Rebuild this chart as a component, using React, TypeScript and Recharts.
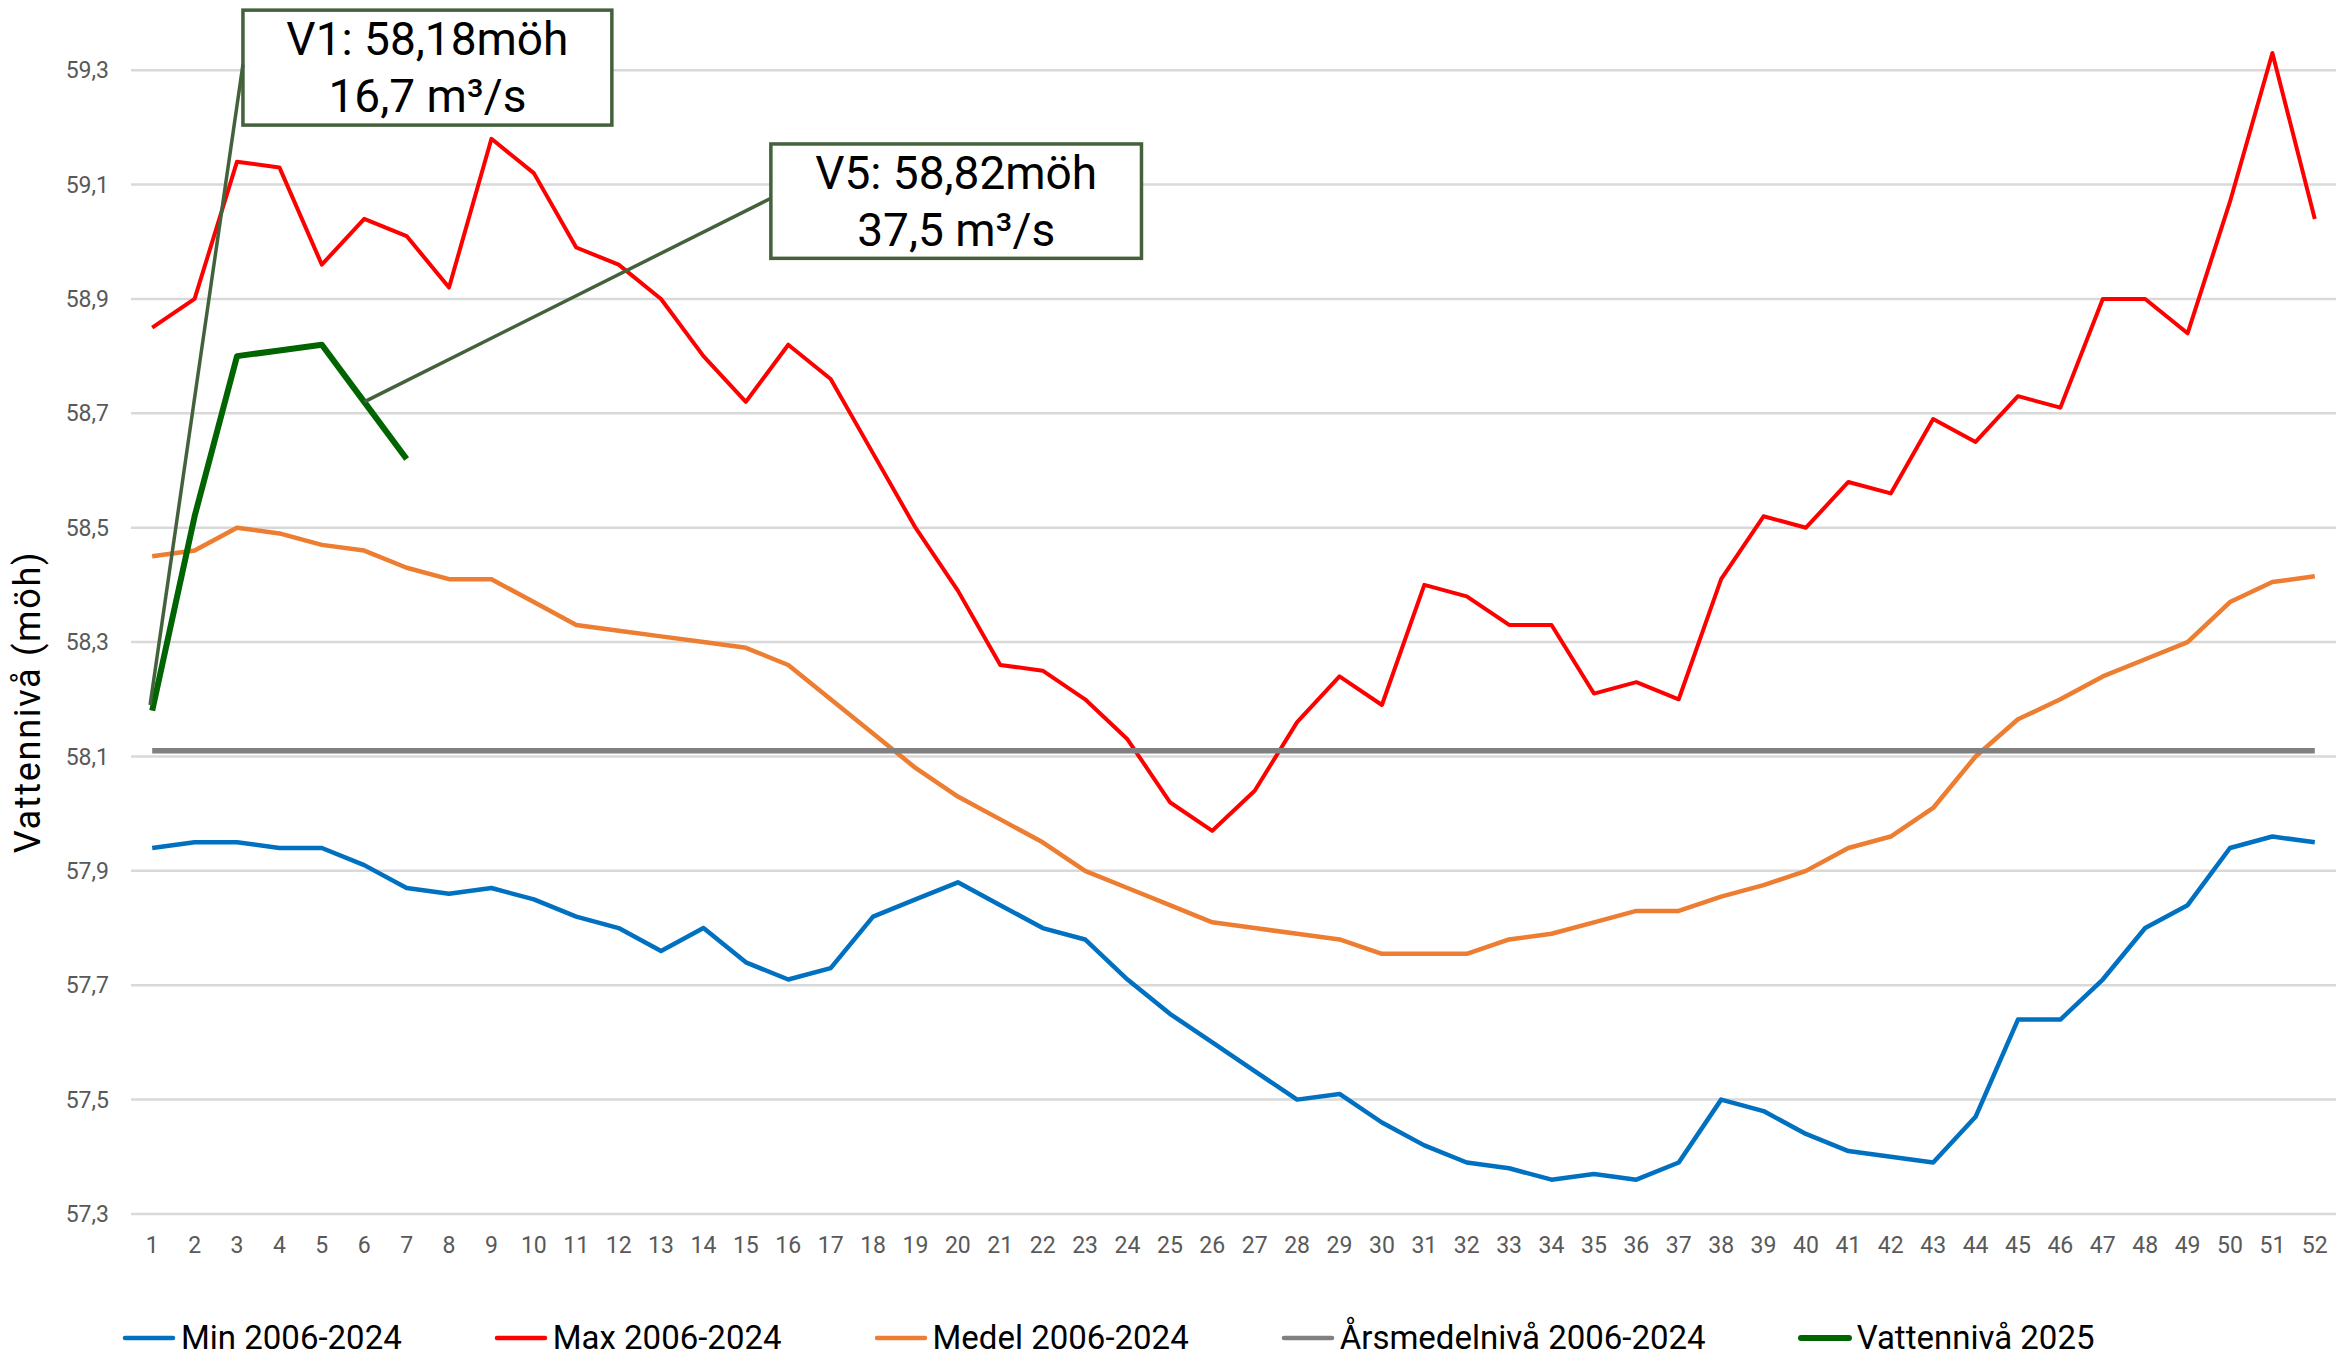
import React from 'react';
import { LineChart, Line, XAxis, YAxis, CartesianGrid, Legend, ReferenceArea, ReferenceLine } from 'recharts';

const weeks = [
  1, 2, 3, 4, 5, 6, 7, 8, 9, 10, 11, 12, 13, 14, 15, 16, 17, 18, 19, 20, 21, 22, 23, 24, 25, 26,
  27, 28, 29, 30, 31, 32, 33, 34, 35, 36, 37, 38, 39, 40, 41, 42, 43, 44, 45, 46, 47, 48, 49, 50, 51, 52,
];

const minLevels = [
  57.94, 57.95, 57.95, 57.94, 57.94, 57.91, 57.87, 57.86, 57.87, 57.85, 57.82, 57.8, 57.76,
  57.8, 57.74, 57.71, 57.73, 57.82, 57.85, 57.88, 57.84, 57.8, 57.78, 57.71, 57.65, 57.6,
  57.55, 57.5, 57.51, 57.46, 57.42, 57.39, 57.38, 57.36, 57.37, 57.36, 57.39, 57.5, 57.48,
  57.44, 57.41, 57.4, 57.39, 57.47, 57.64, 57.64, 57.71, 57.8, 57.84, 57.94, 57.96, 57.95,
];

const maxLevels = [
  58.85, 58.9, 59.14, 59.13, 58.96, 59.04, 59.01, 58.92, 59.18, 59.12, 58.99, 58.96, 58.9,
  58.8, 58.72, 58.82, 58.76, 58.63, 58.5, 58.39, 58.26, 58.25, 58.2, 58.13, 58.02, 57.97,
  58.04, 58.16, 58.24, 58.19, 58.4, 58.38, 58.33, 58.33, 58.21, 58.23, 58.2, 58.41, 58.52,
  58.5, 58.58, 58.56, 58.69, 58.65, 58.73, 58.71, 58.9, 58.9, 58.84, 59.07, 59.33, 59.04,
];

const medelLevels = [
  58.45, 58.46, 58.5, 58.49, 58.47, 58.46, 58.43, 58.41, 58.41, 58.37, 58.33, 58.32, 58.31,
  58.3, 58.29, 58.26, 58.2, 58.14, 58.08, 58.03, 57.99, 57.95, 57.9, 57.87, 57.84, 57.81,
  57.8, 57.79, 57.78, 57.755, 57.755, 57.755, 57.78, 57.79, 57.81, 57.83, 57.83, 57.855, 57.875,
  57.9, 57.94, 57.96, 58.01, 58.1, 58.165, 58.2, 58.24, 58.27, 58.3, 58.37, 58.405, 58.415,
];

const annualMean = [
  58.11, 58.11, 58.11, 58.11, 58.11, 58.11, 58.11, 58.11, 58.11, 58.11, 58.11, 58.11, 58.11,
  58.11, 58.11, 58.11, 58.11, 58.11, 58.11, 58.11, 58.11, 58.11, 58.11, 58.11, 58.11, 58.11,
  58.11, 58.11, 58.11, 58.11, 58.11, 58.11, 58.11, 58.11, 58.11, 58.11, 58.11, 58.11, 58.11,
  58.11, 58.11, 58.11, 58.11, 58.11, 58.11, 58.11, 58.11, 58.11, 58.11, 58.11, 58.11, 58.11,
];

const level2025 = [58.18, 58.52, 58.8, 58.81, 58.82, 58.72, 58.62];

const yTicks = [57.3, 57.5, 57.7, 57.9, 58.1, 58.3, 58.5, 58.7, 58.9, 59.1, 59.3];

const legendOrder = ['min', 'max', 'medel', 'arsmedel', 'v2025'];

// callout boxes and their leader lines, in data units (week, möh)
const callouts = [
  { id: 'v1', x1: 3.14, x2: 11.84, y1: 59.204, y2: 59.405, lines: ['V1: 58,18möh', '16,7 m³/s'] },
  { id: 'v5', x1: 15.59, x2: 24.33, y1: 58.971, y2: 59.171, lines: ['V5: 58,82möh', '37,5 m³/s'] },
];

const leaders = [
  [{ x: 0.95, y: 58.19 }, { x: 3.14, y: 59.31 }],
  [{ x: 6, y: 58.72 }, { x: 15.59, y: 59.076 }],
];

const data = weeks.map((week, i) => ({
  week,
  min: minLevels[i],
  max: maxLevels[i],
  medel: medelLevels[i],
  arsmedel: annualMean[i],
  v2025: level2025[i],
}));

const CALLOUT = '#43613b';
const FONT = 'Roboto, "Liberation Sans", sans-serif';

const fmt = (v: number) => v.toFixed(1).replace('.', ',');

function CalloutShape(props: any) {
  const { x, y, width, height, lines } = props;
  return (
    <g>
      <rect x={x} y={y} width={width} height={height} fill="#fff" stroke={CALLOUT} strokeWidth={3.5} />
      <text x={x + width / 2} y={y + 45} textAnchor="middle" fontSize={46} fontFamily={FONT} fill="#000">
        {lines[0]}
      </text>
      <text x={x + width / 2} y={y + 102} textAnchor="middle" fontSize={46} fontFamily={FONT} fill="#000">
        {lines[1]}
      </text>
    </g>
  );
}

function YTitle() {
  return (
    <text
      transform="translate(40, 702) rotate(-90)"
      textAnchor="middle"
      fontSize={36}
      letterSpacing={1.7}
      fontFamily={FONT}
      fill="#000"
    >
      Vattennivå (möh)
    </text>
  );
}

function renderLegend({ payload }: any) {
  const items = [...(payload || [])].sort(
    (a: any, b: any) => legendOrder.indexOf(a.dataKey) - legendOrder.indexOf(b.dataKey),
  );
  return (
    <div
      style={{
        display: 'flex',
        alignItems: 'center',
        fontFamily: FONT,
        fontSize: 33,
        lineHeight: '36px',
        color: '#000',
        whiteSpace: 'nowrap',
      }}
    >
      {items.map((entry: any) => (
        <div key={entry.value} style={{ display: 'flex', alignItems: 'center', marginRight: 92 }}>
          <svg width={54} height={10}>
            <line
              x1={3}
              y1={5}
              x2={51}
              y2={5}
              stroke={entry.color}
              strokeWidth={entry.dataKey === 'v2025' ? 6 : 4.5}
              strokeLinecap="round"
            />
          </svg>
          <span style={{ marginLeft: 5 }}>{entry.value}</span>
        </div>
      ))}
    </div>
  );
}

export default function App() {
  return (
    <div style={{ position: 'absolute', left: 0, top: 0, width: 2336, height: 1354, background: '#fff' }}>
      <LineChart width={2336} height={1354} data={data} margin={{ top: 13, right: 0, bottom: 110, left: 0 }}>
        <CartesianGrid vertical={false} horizontalValues={yTicks} stroke="#d9d9d9" strokeWidth={2.5} />
        <XAxis
          dataKey="week"
          type="number"
          domain={[0.5, 52.5]}
          ticks={weeks}
          interval={0}
          height={30}
          tickLine={false}
          axisLine={false}
          tickSize={0}
          tickMargin={23}
          tick={{ fontSize: 23, fill: '#595959', fontFamily: FONT }}
        />
        <YAxis
          type="number"
          domain={[57.3, 59.4]}
          ticks={yTicks}
          width={131}
          tickLine={false}
          axisLine={false}
          tickSize={0}
          tickMargin={22}
          tickFormatter={fmt}
          tick={{ fontSize: 23, fill: '#595959', fontFamily: FONT }}
          label={{ content: YTitle }}
        />
        <Legend
          layout="horizontal"
          verticalAlign="middle"
          align="center"
          content={renderLegend}
          wrapperStyle={{ left: 122, top: 1320, width: 'auto', height: 0, overflow: 'visible' }}
        />
        <Line
          dataKey="min"
          name="Min 2006-2024"
          stroke="#0070c0"
          strokeWidth={4.5}
          dot={false}
          strokeLinejoin="round"
          isAnimationActive={false}
        />
        <Line
          dataKey="max"
          name="Max 2006-2024"
          stroke="#ff0000"
          strokeWidth={4}
          dot={false}
          strokeLinejoin="round"
          isAnimationActive={false}
        />
        <Line
          dataKey="medel"
          name="Medel 2006-2024"
          stroke="#ed7d31"
          strokeWidth={4.5}
          dot={false}
          strokeLinejoin="round"
          isAnimationActive={false}
        />
        <Line
          dataKey="arsmedel"
          name="Årsmedelnivå 2006-2024"
          stroke="#808080"
          strokeWidth={5.5}
          dot={false}
          isAnimationActive={false}
        />
        <Line
          dataKey="v2025"
          name="Vattennivå 2025"
          stroke="#006400"
          strokeWidth={6}
          dot={false}
          strokeLinejoin="round"
          isAnimationActive={false}
        />
        {leaders.map((seg, i) => (
          <ReferenceLine key={`leader-${i}`} segment={seg} stroke={CALLOUT} strokeWidth={3.5} ifOverflow="visible" />
        ))}
        {callouts.map((c) => (
          <ReferenceArea
            key={c.id}
            x1={c.x1}
            x2={c.x2}
            y1={c.y1}
            y2={c.y2}
            ifOverflow="visible"
            shape={(p: any) => <CalloutShape {...p} lines={c.lines} />}
          />
        ))}
      </LineChart>
    </div>
  );
}
